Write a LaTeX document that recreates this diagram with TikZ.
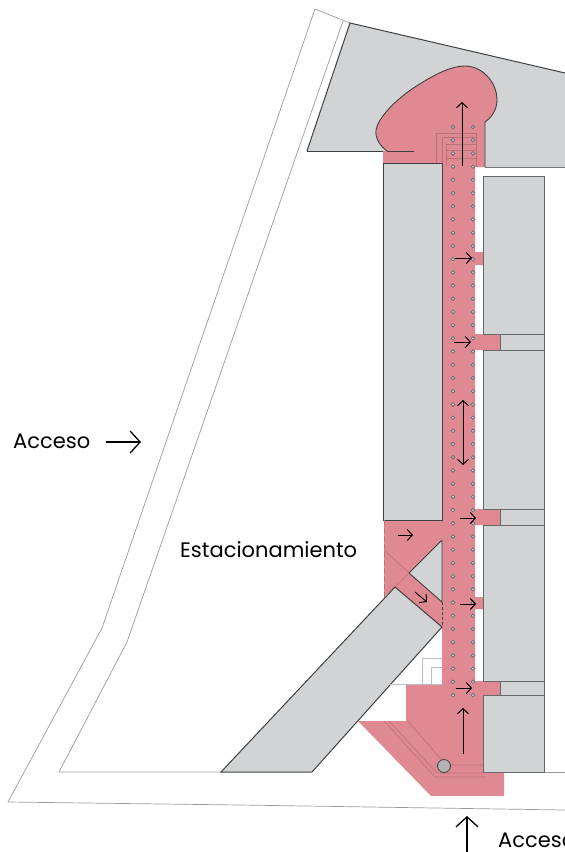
\documentclass[tikz,border=0pt]{standalone}
\usepackage{fontspec}
\setmainfont{Poppins}
\usetikzlibrary{arrows.meta}
\definecolor{rosa}{HTML}{DF8A93}
\definecolor{rosaosc}{HTML}{BC7078}
\definecolor{gris}{HTML}{D1D3D4}
\definecolor{borde}{HTML}{3F4042}
\definecolor{bordeclaro}{HTML}{808285}
\tikzset{
  x=1pt,y=-1pt,
  pinkfill/.style={fill=rosa,draw=none},
  bldg/.style={fill=gris,draw=borde,line width=1pt,line join=miter},
  bldgr/.style={fill=gris,draw=bordeclaro!80!black,line width=1.3pt},
  road/.style={draw=bordeclaro!80,line width=0.7pt,line join=round},
  fine/.style={draw=rosaosc,line width=0.6pt},
  pale/.style={draw=gris!90!black,line width=0.9pt},
  flow/.style={draw=black,line width=0.9pt,-{Straight Barb[length=5pt,width=11pt,line width=1pt]}},
  flowb/.style={draw=black,line width=0.9pt,{Straight Barb[length=5pt,width=11pt,line width=1pt]}-{Straight Barb[length=5pt,width=11pt,line width=1pt]}},
  bigflow/.style={draw=black,line width=1.2pt,-{Straight Barb[length=10pt,width=22pt,line width=1.3pt]}},
  dot/.style={fill=gris,draw=bordeclaro!85!black,line width=0.8pt},
  lbl/.style={inner sep=0pt,anchor=base west,font=\fontsize{21}{24}\selectfont,text=black}
}
\begin{document}
\begin{tikzpicture}
\useasboundingbox (0,0) rectangle (565,852);
% road outline
\draw[road] (350,23) -- (315,9) -- (102,628) -- (8,802) -- (240,805) -- (565,810);
\draw[road] (343,21) -- (127,642) -- (59,772) -- (221,772);
\draw[road] (544,772) -- (565,772);
% top grey block
\fill[gris] (307,151) -- (350,23) -- (565,73) -- (565,167) -- (485,167) -- (485,151) -- cycle;
\draw[borde,line width=1pt] (307,151) -- (350,23) -- (565,73);
\draw[borde,line width=0.7pt] (307,151) -- (387,151);
\draw[borde!70,line width=0.7pt] (485,167) -- (565,167);
% pink head and corridor
\path[pinkfill] (383,151) -- (387,151)
  .. controls (380,146) and (375,138) .. (376,130)
  .. controls (378,118) and (395,100) .. (415,87)
  .. controls (432,76) and (450,66) .. (465,66)
  .. controls (482,66) and (497,82) .. (497,100)
  .. controls (497,110) and (491,118) .. (485,122)
  -- (485,167) -- (475,167) -- (475,252) -- (483,252) -- (483,265) -- (475,265)
  -- (475,334) -- (500,334) -- (500,350) -- (475,350)
  -- (475,509) -- (500,509) -- (500,525) -- (475,525)
  -- (475,597) -- (483,597) -- (483,609) -- (475,609)
  -- (475,681) -- (500,681) -- (500,695) -- (483,695) -- (483,772) -- (504,772) -- (504,796)
  -- (431,796) -- (358,721) -- (406,721) -- (406,684) -- (442,684) -- (442,163) -- (383,163) -- cycle;
\draw[borde,line width=0.9pt] (387,151)
  .. controls (380,146) and (375,138) .. (376,130)
  .. controls (378,118) and (395,100) .. (415,87)
  .. controls (432,76) and (450,66) .. (465,66)
  .. controls (482,66) and (497,82) .. (497,100)
  .. controls (497,110) and (491,118) .. (485,122) -- (485,167);
\draw[borde,line width=0.7pt] (387,151) -- (414,151);
% fine lines in head
\draw[fine] (436,167) -- (436,133) -- (476,133) -- (476,167);
\draw[fine] (442,163) -- (442,137) -- (476,137);
\draw[fine] (446,166) -- (446,144) -- (476,144);
\draw[fine] (446,150) -- (476,150);
\draw[fine] (446,158) -- (476,158);
% left block and parking zone
\path[pinkfill] (384,520) -- (442,520) -- (442,627) -- (395,587) -- (384,597) -- cycle;
\node[bldg,minimum width=59pt,minimum height=357pt,inner sep=0pt,anchor=north west] (bloqueizq) at (383,163) {};
\fill[gris] (442,540) -- (409,573) -- (442,602) -- cycle;
\draw[borde,line width=0.9pt] (442,540) -- (409,573) -- (442,602) -- (442,540);
\draw[borde,line width=0.9pt,dashed,dash pattern=on 3pt off 2pt] (442,602) -- (442,627);
\draw[rosaosc,line width=0.8pt,dashed,dash pattern=on 5pt off 3pt] (384,520) -- (384,597);
\draw[fine] (384,550) -- (409,573);
\draw[fine,dashed,dash pattern=on 5pt off 2pt] (409,573) -- (395,587);
% diagonal block
\path[bldg] (395,587) -- (442,627) -- (312,772) -- (221,772) -- cycle;
% right blocks
\node[bldgr,minimum width=61pt,minimum height=158pt,inner sep=0pt,anchor=north west] (der1) at (483,176) {};
\node[bldgr,minimum width=44pt,minimum height=16pt,inner sep=0pt,anchor=north west] (anexo1) at (500,334) {};
\node[bldgr,minimum width=61pt,minimum height=159pt,inner sep=0pt,anchor=north west] (der2) at (483,350) {};
\node[bldgr,minimum width=44pt,minimum height=16pt,inner sep=0pt,anchor=north west] (anexo2) at (500,509) {};
\node[bldgr,minimum width=61pt,minimum height=156pt,inner sep=0pt,anchor=north west] (der3) at (483,525) {};
\node[bldgr,minimum width=44pt,minimum height=14pt,inner sep=0pt,anchor=north west] (anexo3) at (500,681) {};
\node[bldgr,minimum width=61pt,minimum height=77pt,inner sep=0pt,anchor=north west] (der4) at (483,695) {};
% pale rectangles lower corridor
\draw[pale] (422,684) -- (422,658) -- (442,658);
\draw[pale] (431,684) -- (431,667) -- (442,667);
\draw[pale] (390,684) -- (442,684);
% fine lines bottom
\draw[fine] (384,721) -- (435,777) -- (486,777);
\draw[fine] (389,721) -- (437,773) -- (483,773);
\draw[fine] (408,721) -- (446,765) -- (483,765);
\node[circle,fill=gris!85!black,draw=borde,line width=0.8pt,minimum size=13pt,inner sep=0pt] (rotonda) at (444,766) {};
% dots
\foreach \i in {0,...,43}{
  \path[dot] (453,127+13.21*\i) circle (1.8pt);
  \path[dot] (473,127+13.21*\i) circle (1.8pt);
}
% arrows
\draw[flow] (462,166) -- (462,102);
\draw[flow] (455,258) -- (472,258);
\draw[flow] (454,342) -- (471,342);
\draw[flowb] (463,400) -- (463,465);
\draw[flow] (460,518) -- (476,518);
\draw[flow] (460,604) -- (476,604);
\draw[flow] (398,535) -- (413,535);
\draw[flow] (415,592) -- (427,602);
\draw[flow] (456,688) -- (472,688);
\draw[flow] (463,754) -- (463,708);
\draw[bigflow] (106,442) -- (141,442);
\draw[bigflow] (467,852) -- (467,816);
% labels
\node[lbl] (acc1) at (13,448) {Acceso};
\node[lbl] (est) at (180,557) {Estacionamiento};
\node[lbl] (acc2) at (498,847) {Acceso};
\end{tikzpicture}
\end{document}
